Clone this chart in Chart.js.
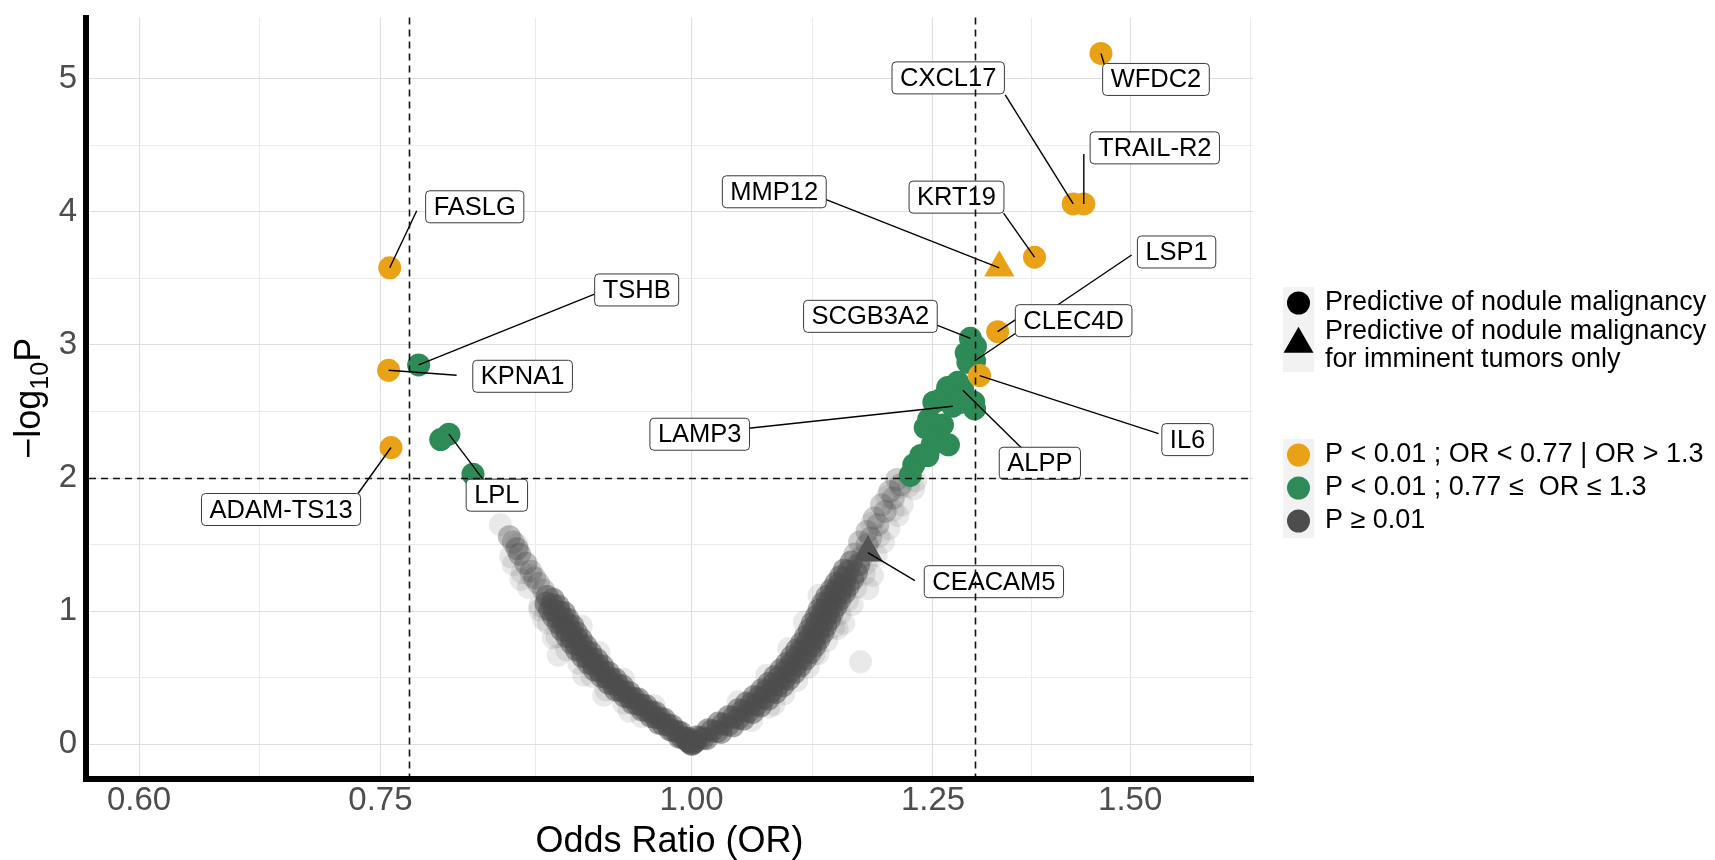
<!DOCTYPE html>
<html>
<head>
<meta charset="utf-8">
<script src="https://cdn.jsdelivr.net/npm/chart.js"></script>
<style>
  html, body { margin: 0; padding: 0; background: #ffffff; }
  #wrap { width: 1715px; height: 860px; position: relative; }
</style>
</head>
<body>
<div id="wrap"><canvas id="volcano" width="1715" height="860"></canvas></div>
<script>
// ---- Data ---------------------------------------------------------------
// Significant, outside the OR window (P < 0.01 ; OR < 0.77 | OR > 1.3)
const orangeNames = ['WFDC2', 'CXCL17', 'TRAIL-R2', 'KRT19', 'CLEC4D', 'IL6', 'FASLG', 'KPNA1', 'ADAM-TS13'];
const orangeOR    = [1.460, 1.423, 1.437, 1.373, 1.327, 1.305, 0.7565, 0.7557, 0.7574];
const orangeLogP  = [5.19, 4.06, 4.06, 3.66, 3.10, 2.77, 3.58, 2.81, 2.23];

// Significant, inside the OR window (P < 0.01 ; 0.77 <= OR <= 1.3)
const greenNames = ['SCGB3A2', '', '', '', 'LSP1', '', 'ALPP', '', '', '', 'LAMP3', '', '', '',
                    '', '', '', '', '', '', '', '', '', '', 'TSHB', '', 'LPL', ''];
const greenOR    = [1.294, 1.300, 1.289, 1.291, 1.299, 1.279, 1.285, 1.267, 1.259, 1.251, 1.273, 1.298, 1.299, 1.282,
                    1.245, 1.241, 1.261, 1.255, 1.268, 1.249, 1.236, 1.228, 1.224, 1.244, 0.777, 0.793, 0.799, 0.817];
const greenLogP  = [3.05, 2.99, 2.94, 2.87, 2.88, 2.72, 2.66, 2.68, 2.59, 2.57, 2.54, 2.57, 2.52, 2.57,
                    2.44, 2.38, 2.40, 2.32, 2.25, 2.25, 2.17, 2.10, 2.02, 2.17, 2.85, 2.29, 2.33, 2.03];

// Predictive for imminent tumours only (triangles)
const imminentSigNames = ['MMP12'];
const imminentSigOR    = [1.329];
const imminentSigLogP  = [3.58];
const imminentNsNames  = ['CEACAM5'];
const imminentNsOR     = [1.177];
const imminentNsLogP   = [1.44];

// Non-significant proteins (P >= 0.01): [OR, -log10 P]
// dense lower part of both arms
const nonsigCore = [
  [1.000,0.00],[0.999,0.01],[0.998,0.02],[0.997,0.03],[0.9965,0.025],
  [0.9965,0.045],[0.994,0.048],[0.991,0.052],[0.9885,0.055],
  [0.990,0.09],[0.987,0.097],[0.983,0.103],[0.980,0.11],
  [0.982,0.14],[0.978,0.147],[0.974,0.153],[0.970,0.16],
  [0.975,0.19],[0.971,0.197],[0.967,0.203],[0.963,0.21],
  [0.967,0.24],[0.963,0.247],[0.959,0.253],[0.955,0.26],
  [0.959,0.29],[0.955,0.297],[0.951,0.303],[0.947,0.31],
  [0.952,0.34],[0.948,0.347],[0.944,0.353],[0.940,0.36],
  [0.944,0.39],[0.940,0.397],[0.936,0.403],[0.932,0.41],
  [0.938,0.44],[0.934,0.447],[0.930,0.453],[0.926,0.46],
  [0.932,0.49],[0.928,0.497],[0.924,0.503],[0.920,0.51],
  [0.926,0.54],[0.922,0.547],[0.918,0.553],[0.914,0.56],
  [0.921,0.59],[0.917,0.597],[0.913,0.603],[0.909,0.61],
  [0.916,0.64],[0.912,0.647],[0.908,0.653],[0.904,0.66],
  [0.911,0.69],[0.907,0.697],[0.903,0.703],[0.899,0.71],
  [0.907,0.74],[0.903,0.747],[0.899,0.753],[0.895,0.76],
  [0.903,0.79],[0.899,0.797],[0.895,0.803],[0.891,0.81],
  [0.899,0.84],[0.895,0.847],[0.891,0.853],[0.887,0.86],
  [0.896,0.89],[0.892,0.897],[0.888,0.903],[0.884,0.91],
  [0.892,0.94],[0.888,0.947],[0.884,0.953],[0.880,0.96],
  [0.889,0.99],[0.885,0.997],[0.881,1.003],[0.877,1.01],
  [0.884,1.04],[0.879,1.05],[0.874,1.06],
  [0.880,1.09],[0.875,1.11],
  [1.001,0.005],[1.002,0.015],[1.004,0.025],
  [1.005,0.057],[1.008,0.052],[1.011,0.048],[1.014,0.043],
  [1.0155,0.11],[1.019,0.103],[1.024,0.097],[1.0275,0.09],
  [1.025,0.16],[1.0295,0.153],[1.0345,0.147],[1.039,0.14],
  [1.035,0.21],[1.0395,0.203],[1.0445,0.197],[1.049,0.19],
  [1.044,0.26],[1.0485,0.253],[1.0535,0.247],[1.058,0.24],
  [1.052,0.31],[1.0565,0.303],[1.0615,0.297],[1.066,0.29],
  [1.0595,0.36],[1.064,0.353],[1.069,0.347],[1.0735,0.34],
  [1.067,0.41],[1.0715,0.403],[1.0765,0.397],[1.081,0.39],
  [1.074,0.46],[1.0785,0.453],[1.0835,0.447],[1.088,0.44],
  [1.080,0.51],[1.0845,0.503],[1.0895,0.497],[1.094,0.49],
  [1.086,0.56],[1.0905,0.553],[1.0955,0.547],[1.100,0.54],
  [1.092,0.61],[1.0965,0.603],[1.1015,0.597],[1.106,0.59],
  [1.097,0.66],[1.1015,0.653],[1.1065,0.647],[1.111,0.64],
  [1.102,0.71],[1.1065,0.703],[1.1115,0.697],[1.116,0.69],
  [1.107,0.76],[1.1115,0.753],[1.1165,0.747],[1.121,0.74],
  [1.111,0.81],[1.1155,0.803],[1.1205,0.797],[1.125,0.79],
  [1.115,0.86],[1.1195,0.853],[1.1245,0.847],[1.129,0.84],
  [1.118,0.91],[1.1225,0.903],[1.1275,0.897],[1.132,0.89],
  [1.122,0.96],[1.1265,0.953],[1.1315,0.947],[1.136,0.94],
  [1.125,1.01],[1.1295,1.003],[1.1345,0.997],[1.139,0.99],
  [1.129,1.06],[1.1335,1.053],[1.1385,1.047],[1.143,1.04],
  [1.133,1.11],[1.1375,1.103],[1.1425,1.097],[1.147,1.09],
  [1.138,1.16],[1.1425,1.153],[1.1475,1.147],[1.152,1.14],
  [1.1425,1.21],[1.1465,1.203],[1.1515,1.197],[1.156,1.19],
  [1.1475,1.26],[1.152,1.25],[1.1605,1.24],
  [1.1515,1.31],[1.156,1.30],[1.1645,1.29],
  [1.159,1.37],[1.167,1.35]
];
// upper reaches of both arms, thinner
const nonsigTail = [
  [0.872,1.16],[0.868,1.21],[0.865,1.25],[0.862,1.30],[0.858,1.36],
  [0.853,1.43],[0.851,1.47],[0.848,1.52],[0.845,1.56],
  [1.163,1.43],[1.171,1.41],[1.176,1.50],[1.168,1.52],[1.180,1.55],[1.176,1.60],
  [1.188,1.65],[1.184,1.70],[1.196,1.75],[1.192,1.80],[1.205,1.85],[1.201,1.90],
  [1.213,1.95],[1.209,1.99]
];
// scattered, isolated proteins around the arms
const nonsigSparse = [
  [0.874,1.02],[0.862,1.27],[0.855,1.29],[0.858,1.36],[0.853,1.43],[0.851,1.47],
  [0.846,1.41],[0.851,1.50],[0.845,1.56],[0.838,1.65],[0.884,0.67],[0.922,0.37],
  [0.872,0.94],[0.854,1.24],[0.869,1.04],[0.880,0.80],[0.905,0.52],[0.944,0.25],
  [0.860,1.18],[0.848,1.35],
  [0.955,0.21],[0.939,0.31],[0.924,0.41],[0.912,0.51],[0.901,0.61],[0.891,0.71],
  [0.883,0.81],[0.876,0.91],[0.869,1.01],[0.966,0.29],[0.939,0.49],[0.918,0.69],
  [0.903,0.89],
  [1.169,0.62],[1.144,0.87],[1.151,0.91],[1.177,1.17],[1.182,1.27],[1.194,1.52],
  [1.210,1.72],[1.228,1.92],[1.079,0.30],[1.186,1.42],[1.189,1.56],[1.181,1.66],
  [1.205,1.76],[1.198,1.86],[1.213,1.93],[1.222,1.94],[1.215,1.80],[1.160,1.05],
  [1.120,0.68],[1.230,1.98],[1.200,1.62],[1.175,1.36],
  [1.057,0.18],[1.074,0.28],[1.089,0.38],[1.102,0.48],[1.114,0.58],[1.124,0.68],
  [1.133,0.78],[1.140,0.88],[1.147,0.98],[1.155,1.08],[1.164,1.18],[1.173,1.28],
  [1.044,0.32],[1.072,0.52],[1.094,0.72],[1.110,0.92],[1.125,1.12]
];

// Axis breaks
const xMajorTicks = [0.60, 0.75, 1.00, 1.25, 1.50];
const xMinorTicks = [0.6708, 0.8660, 1.1180, 1.3693, 1.6771];
const yMajorTicks = [0, 1, 2, 3, 4, 5];
const yMinorTicks = [0.5, 1.5, 2.5, 3.5, 4.5];

// Thresholds
const orCutLow = 0.77, orCutHigh = 1.3, logPCut = 2;

// ---- Styling / layout ---------------------------------------------------
const FONT = '"Liberation Sans", Arial, Helvetica, sans-serif';
const COL_ORANGE = '#E9A216';
const COL_GREEN = '#2E8B57';
const COL_GREY = '#4D4D4D';

// Repelled label placement: box centre (dx, dy) and segment end (sx, sy), in px from the point
const labelLayout = {
  'WFDC2':     {dx: 55,   dy: 26,   sx: 4,    sy: 13},
  'CXCL17':    {dx: -125, dy: -126, sx: -68,  sy: -109},
  'TRAIL-R2':  {dx: 71,   dy: -56,  sx: 0,    sy: -50},
  'KRT19':     {dx: -78,  dy: -60,  sx: -31,  sy: -44},
  'MMP12':     {dx: -225, dy: -76,  sx: -175, sy: -69},
  'LSP1':      {dx: 202,  dy: -109, sx: 157,  sy: -106},
  'CLEC4D':    {dx: 76,   dy: -11,  sx: 18,   sy: -12},
  'SCGB3A2':   {dx: -100, dy: -22,  sx: -38,  sy: -15},
  'IL6':       {dx: 208,  dy: 64,   sx: 179,  sy: 58},
  'ALPP':      {dx: 77,   dy: 73,   sx: 60,   sy: 59},
  'LAMP3':     {dx: -253, dy: 28,   sx: -204, sy: 22},
  'CEACAM5':   {dx: 126,  dy: 29,   sx: 47,   sy: 28},
  'FASLG':     {dx: 85,   dy: -61,  sx: 27,   sy: -57},
  'TSHB':      {dx: 218,  dy: -75,  sx: 184,  sy: -74},
  'KPNA1':     {dx: 134,  dy: 6,    sx: 68,   sy: 5},
  'LPL':       {dx: 48,   dy: 61,   sx: 34,   sy: 45},
  'ADAM-TS13': {dx: -110, dy: 62,   sx: -33,  sy: 46}
};

const zip = (xs, ys) => xs.map((x, i) => ({x: x, y: ys[i]}));
const pairs = arr => arr.map(p => ({x: p[0], y: p[1]}));

// ---- Plugins ------------------------------------------------------------
const repelLabels = {
  id: 'repelLabels',
  afterDatasetsDraw(chart) {
    const ctx = chart.ctx;
    const items = [];
    chart.data.datasets.forEach((ds, di) => {
      if (!ds.names) return;
      const meta = chart.getDatasetMeta(di);
      ds.names.forEach((name, i) => {
        if (!name || !labelLayout[name]) return;
        const el = meta.data[i];
        items.push({name: name, x: el.x, y: el.y, L: labelLayout[name]});
      });
    });
    ctx.save();
    ctx.strokeStyle = '#000';
    ctx.lineWidth = 1.4;
    items.forEach(it => {
      ctx.beginPath();
      ctx.moveTo(it.x, it.y);
      ctx.lineTo(it.x + it.L.sx, it.y + it.L.sy);
      ctx.stroke();
    });
    ctx.font = '25.5px ' + FONT;
    ctx.textAlign = 'center';
    ctx.textBaseline = 'middle';
    items.forEach(it => {
      const w = ctx.measureText(it.name).width + 16, h = 32;
      const cx = it.x + it.L.dx, cy = it.y + it.L.dy;
      ctx.beginPath();
      ctx.roundRect(cx - w / 2, cy - h / 2, w, h, 4);
      ctx.fillStyle = '#ffffff';
      ctx.fill();
      ctx.strokeStyle = '#3a3a3a';
      ctx.lineWidth = 1;
      ctx.stroke();
      ctx.fillStyle = '#000';
      ctx.fillText(it.name, cx, cy + 1);
    });
    ctx.restore();
  }
};

const thresholdLines = {
  id: 'thresholdLines',
  afterDraw(chart) {
    const {ctx, chartArea: a, scales} = chart;
    ctx.save();
    ctx.strokeStyle = '#111';
    ctx.lineWidth = 1.6;
    ctx.setLineDash([7, 5]);
    [orCutLow, orCutHigh].forEach(v => {
      const x = Math.round(scales.x.getPixelForValue(v)) + 0.5;
      ctx.beginPath(); ctx.moveTo(x, a.top); ctx.lineTo(x, a.bottom - 3); ctx.stroke();
    });
    const y = Math.round(scales.y.getPixelForValue(logPCut)) + 0.5;
    ctx.beginPath(); ctx.moveTo(a.left + 3, y); ctx.lineTo(a.right, y); ctx.stroke();
    ctx.restore();
  }
};

const titlesAndLegend = {
  id: 'titlesAndLegend',
  afterDraw(chart) {
    const ctx = chart.ctx;
    const a = chart.chartArea;
    ctx.save();
    // x axis title
    ctx.fillStyle = '#000';
    ctx.font = '36px ' + FONT;
    ctx.textAlign = 'center';
    ctx.textBaseline = 'alphabetic';
    ctx.fillText('Odds Ratio (OR)', (a.left + a.right) / 2, 852);

    // y axis title: −log10 P
    ctx.save();
    ctx.translate(40, (a.top + a.bottom) / 2);
    ctx.rotate(-Math.PI / 2);
    const big = '36px ' + FONT, small = '25px ' + FONT;
    ctx.font = big; const w1 = ctx.measureText('\u2212log').width; const w3 = ctx.measureText('P').width;
    ctx.font = small; const w2 = ctx.measureText('10').width;
    const x0 = -(w1 + w2 + w3) / 2;
    ctx.textAlign = 'left';
    ctx.font = big; ctx.fillText('\u2212log', x0, 0);
    ctx.font = small; ctx.fillText('10', x0 + w1, 8);
    ctx.font = big; ctx.fillText('P', x0 + w1 + w2, 0);
    ctx.restore();

    // legend: shape
    ctx.fillStyle = '#f2f2f2';
    ctx.fillRect(1283, 287, 31, 85);
    ctx.fillRect(1283, 439, 31, 99);
    ctx.fillStyle = '#000';
    ctx.beginPath(); ctx.arc(1298.5, 303, 11.5, 0, Math.PI * 2); ctx.fill();
    const tr = 17.3, tcx = 1298.5, tcy = 344;
    ctx.beginPath();
    ctx.moveTo(tcx, tcy - tr);
    ctx.lineTo(tcx + tr * Math.sin(2 * Math.PI / 3), tcy + tr / 2);
    ctx.lineTo(tcx - tr * Math.sin(2 * Math.PI / 3), tcy + tr / 2);
    ctx.closePath(); ctx.fill();

    ctx.font = '27px ' + FONT;
    ctx.textAlign = 'left';
    ctx.textBaseline = 'middle';
    ctx.fillText('Predictive of nodule malignancy', 1325, 303);
    ctx.fillText('Predictive of nodule malignancy', 1325, 332);
    ctx.fillText('for imminent tumors only', 1325, 360);

    // legend: colour
    const keys = [
      [COL_ORANGE, 'P < 0.01 ; OR < 0.77 | OR > 1.3', 455],
      [COL_GREEN, 'P < 0.01 ; 0.77 \u2264  OR \u2264 1.3', 488],
      [COL_GREY, 'P \u2265 0.01', 521]
    ];
    keys.forEach(k => {
      ctx.fillStyle = k[0];
      ctx.beginPath(); ctx.arc(1298.5, k[2], 11.5, 0, Math.PI * 2); ctx.fill();
      ctx.fillStyle = '#000';
      ctx.fillText(k[1], 1325, k[2]);
    });
    ctx.restore();
  }
};

// ---- Chart --------------------------------------------------------------
const xTicks = xMajorTicks.concat(xMinorTicks).sort((a, b) => a - b);
const yTicks = yMajorTicks.concat(yMinorTicks).sort((a, b) => a - b);

const pointSet = (label, data, color, order, extra) => Object.assign({
  label: label, data: data, order: order,
  pointStyle: 'circle', pointRadius: 11.5, pointBorderWidth: 0,
  pointBackgroundColor: color, pointBorderColor: 'rgba(0,0,0,0)'
}, extra || {});

new Chart(document.getElementById('volcano'), {
  type: 'scatter',
  data: {
    datasets: [
      pointSet('P < 0.01 ; OR < 0.77 | OR > 1.3', zip(orangeOR, orangeLogP), COL_ORANGE, 0, {names: orangeNames}),
      pointSet('MMP12', zip(imminentSigOR, imminentSigLogP), COL_ORANGE, 0,
               {names: imminentSigNames, pointStyle: 'triangle', pointRadius: 17.5}),
      pointSet('P < 0.01 ; 0.77 <= OR <= 1.3', zip(greenOR, greenLogP), COL_GREEN, 1, {names: greenNames}),
      pointSet('CEACAM5', zip(imminentNsOR, imminentNsLogP), '#555555', 2,
               {names: imminentNsNames, pointStyle: 'triangle', pointRadius: 17.5}),
      pointSet('P >= 0.01', pairs(nonsigCore), 'rgba(77,77,77,0.5)', 3),
      pointSet('P >= 0.01 (upper)', pairs(nonsigTail), 'rgba(77,77,77,0.28)', 4),
      pointSet('P >= 0.01 (isolated)', pairs(nonsigSparse), 'rgba(77,77,77,0.12)', 5)
    ]
  },
  options: {
    responsive: false,
    animation: false,
    layout: { padding: { left: 0, right: 462, top: 15, bottom: 0 } },
    plugins: { legend: { display: false }, tooltip: { enabled: false } },
    scales: {
      x: {
        type: 'logarithmic',
        bounds: 'data',
        min: 0.5713,
        max: 1.6803,
        afterBuildTicks: ax => { ax.ticks = xTicks.map(v => ({value: v})); },
        afterFit: ax => { ax.height = 81; ax.paddingLeft = 0; ax.paddingRight = 0; },
        ticks: {
          autoSkip: false, maxRotation: 0, minRotation: 0, padding: 2,
          color: '#4d4d4d',
          font: { size: 33, family: FONT },
          callback: v => xMajorTicks.includes(v) ? v.toFixed(2) : ''
        },
        grid: {
          drawTicks: false,
          lineWidth: 1,
          color: c => (c.tick && xMajorTicks.includes(c.tick.value)) ? '#dedede' : '#ebebeb'
        },
        border: { display: true, color: '#000', width: 6 }
      },
      y: {
        type: 'linear',
        bounds: 'data',
        min: -0.26,
        max: 5.46,
        afterBuildTicks: ax => { ax.ticks = yTicks.map(v => ({value: v})); },
        afterFit: ax => { ax.width = 86; ax.paddingTop = 0; ax.paddingBottom = 0; },
        ticks: {
          autoSkip: false, padding: 9,
          color: '#4d4d4d',
          font: { size: 33, family: FONT },
          callback: v => yMajorTicks.includes(v) ? String(v) : ''
        },
        grid: {
          drawTicks: false,
          lineWidth: 1,
          color: c => (c.tick && yMajorTicks.includes(c.tick.value)) ? '#dedede' : '#ebebeb'
        },
        border: { display: true, color: '#000', width: 6 }
      }
    }
  },
  plugins: [repelLabels, thresholdLines, titlesAndLegend]
});
</script>
</body>
</html>
